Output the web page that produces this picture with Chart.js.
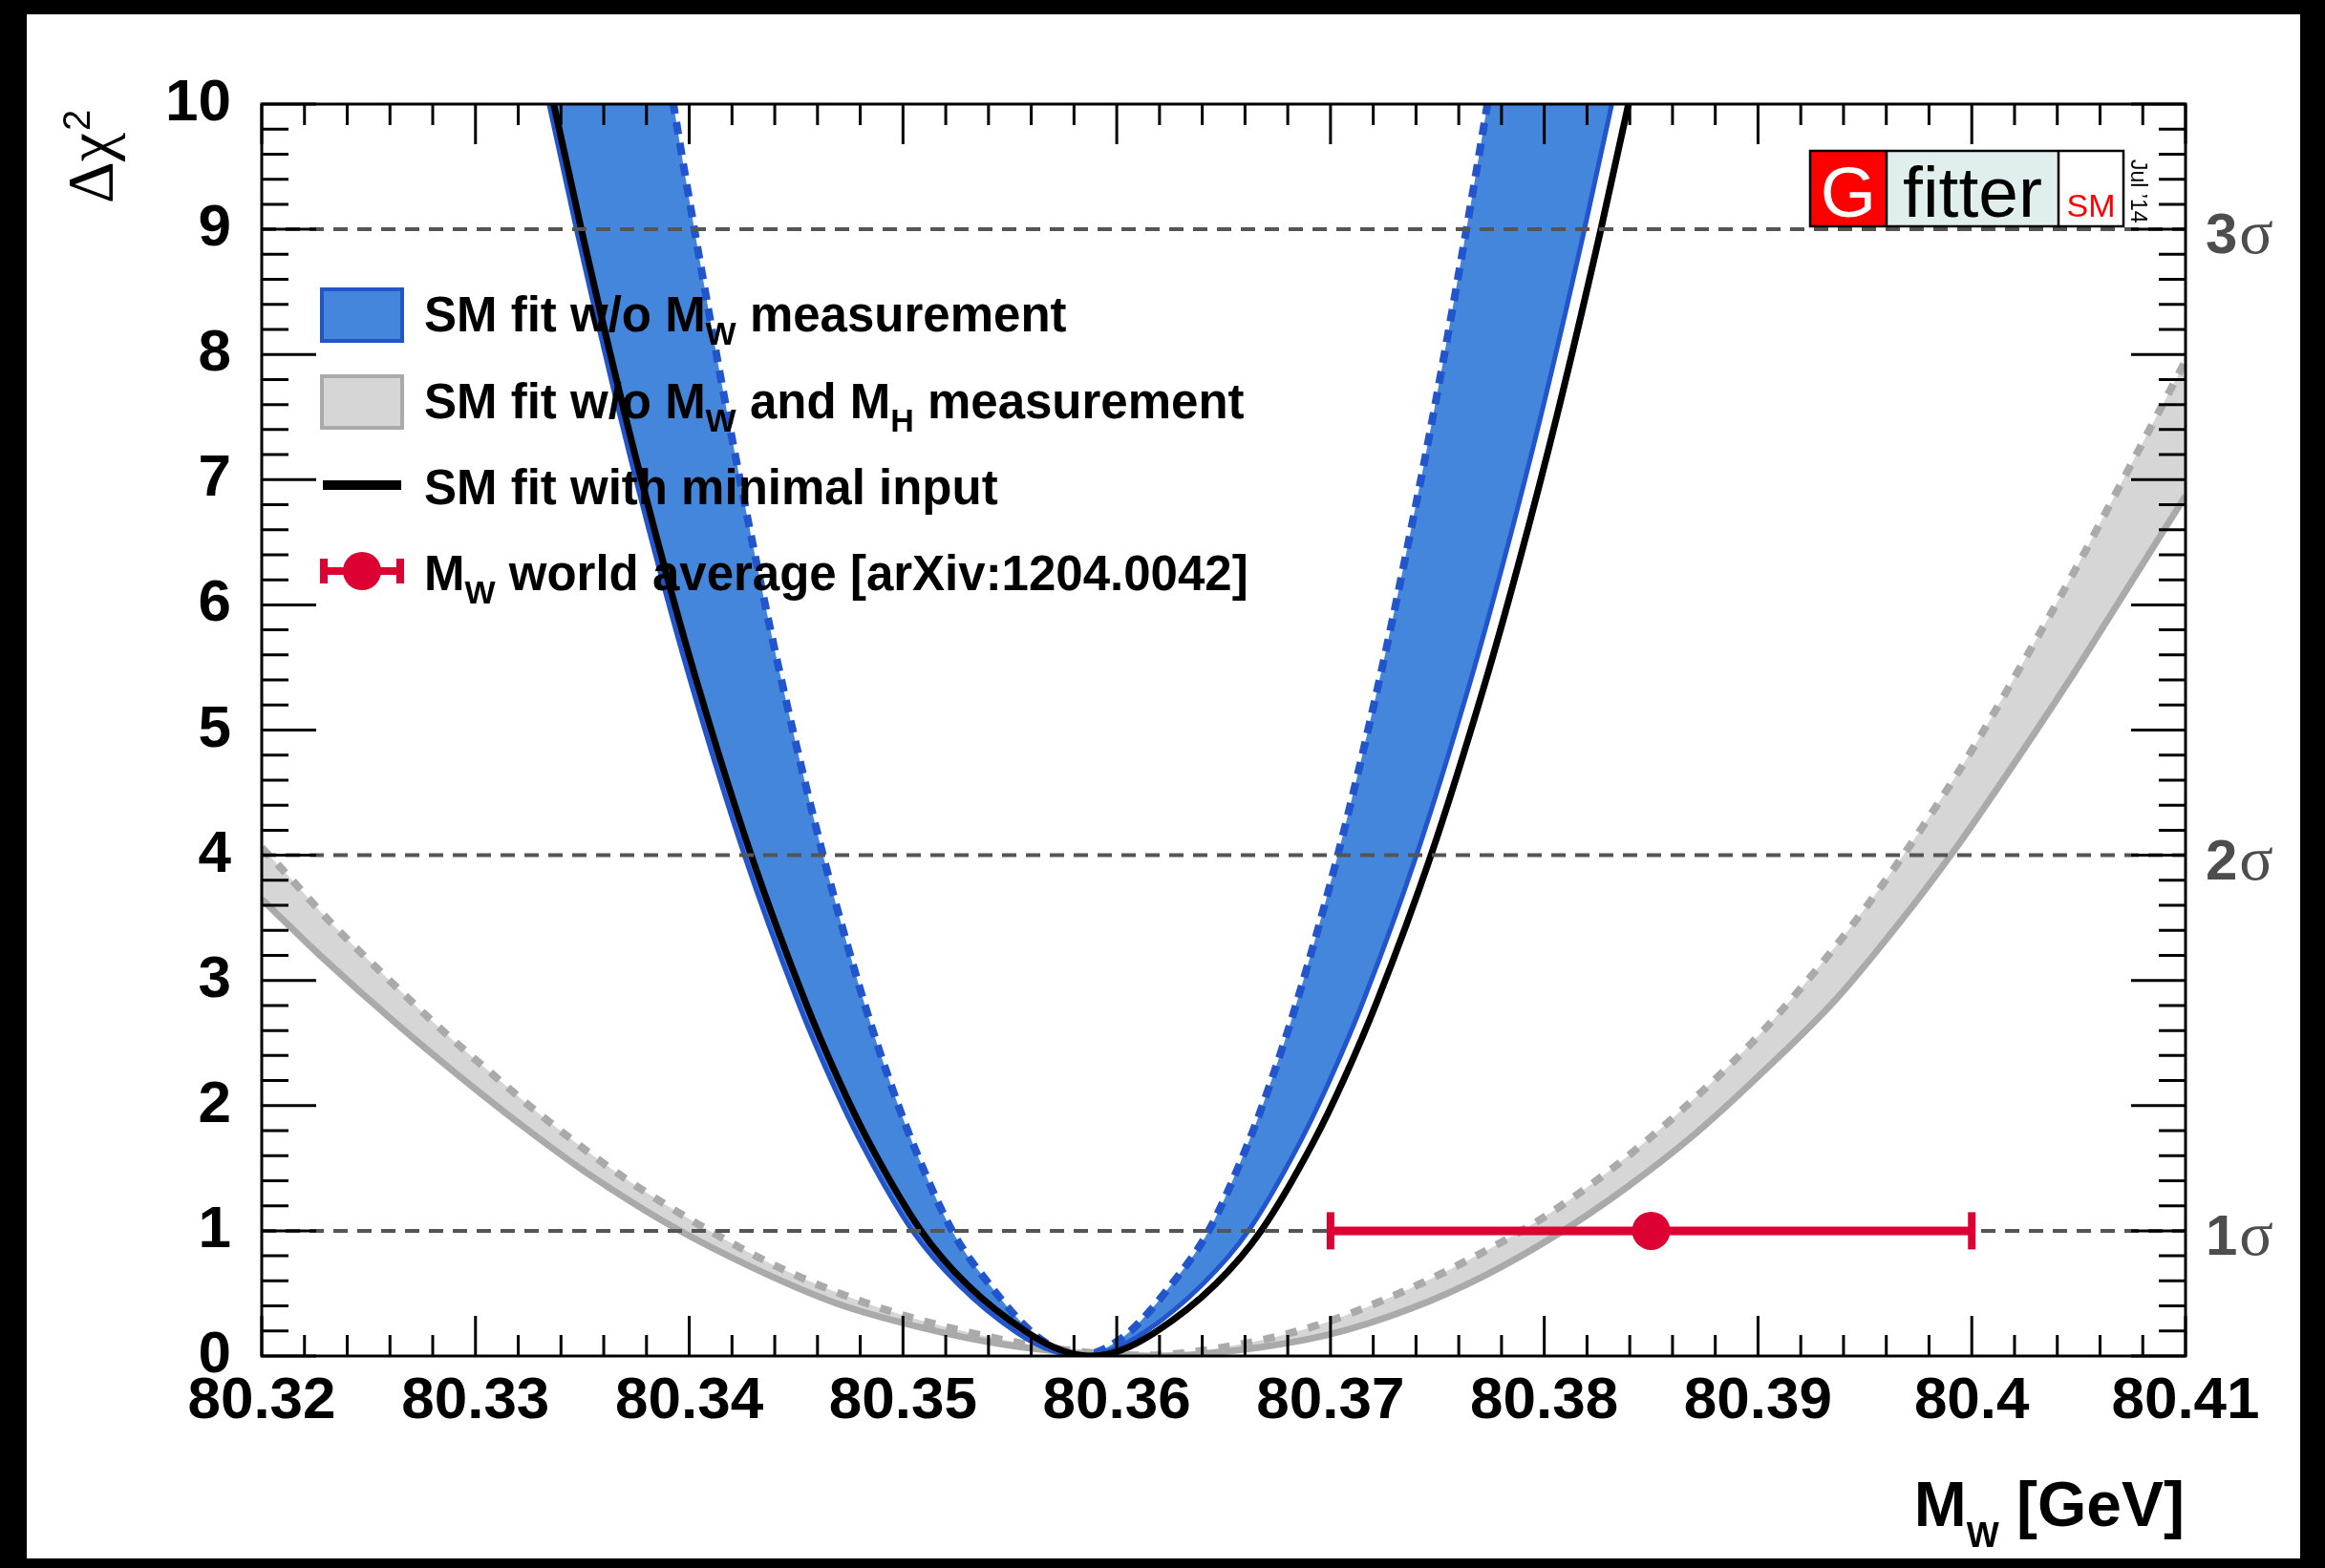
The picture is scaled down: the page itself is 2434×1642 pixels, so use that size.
<!DOCTYPE html>
<html>
<head>
<meta charset="utf-8">
<title>Delta chi2 vs MW</title>
<script src="https://cdn.jsdelivr.net/npm/chart.js@4.4.1/dist/chart.umd.min.js"></script>
<style>
  html, body { margin: 0; padding: 0; background: #000; }
  body { width: 2434px; height: 1642px; position: relative; overflow: hidden; }
  #wrap { position: absolute; left: 28px; top: 15px; width: 2380px; height: 1617px; background: #fff; }
  canvas { display: block; }
</style>
</head>
<body>
<div id="wrap"><canvas id="chi2" width="2380" height="1617"></canvas></div>
<script>
// Delta chi2 scan of MW (Gfitter, Jul '14) drawn with Chart.js

const X_MIN = 80.32;
const X_MAX = 80.41;
const xTickValues = [80.32, 80.33, 80.34, 80.35, 80.36, 80.37, 80.38, 80.39, 80.40, 80.41];
const xTickLabels = ['80.32', '80.33', '80.34', '80.35', '80.36', '80.37', '80.38', '80.39', '80.4', '80.41'];
const yTickValues = [0, 1, 2, 3, 4, 5, 6, 7, 8, 9, 10];
const sigmaLevels = [1, 4, 9];
const sigmaLabels = ['1', '2', '3'];

// SM fit w/o MW measurement: outer (solid) and inner (dashed) edge of the band
const mwBlueOuter   = [80.33223, 80.33344, 80.33472, 80.33673, 80.33856, 80.34009, 80.34258, 80.34508, 80.34659, 80.34802,
                       80.35044, 80.35260, 80.35530, 80.35700, 80.35830, 80.35960, 80.36130, 80.36400, 80.36616, 80.36858,
                       80.37001, 80.37152, 80.37402, 80.37651, 80.37804, 80.37987, 80.38188, 80.38316, 80.38437];
const chi2BlueOuter = [11, 10, 9, 7.53, 6.31, 5.37, 4.0, 2.83, 2.22, 1.71,
                       1.0, 0.57, 0.19, 0.04, 0, 0.04, 0.19, 0.57, 1.0, 1.71,
                       2.22, 2.83, 4.0, 5.37, 6.31, 7.53, 9.0, 10, 11];
const mwBlueInner   = [80.33276, 80.33578, 80.33745, 80.33926, 80.34024, 80.34178, 80.34318, 80.34435, 80.34626, 80.34817,
                       80.34933, 80.35043, 80.35230, 80.35405, 80.35602, 80.35740, 80.35830, 80.35920, 80.36058, 80.36255,
                       80.36430, 80.36617, 80.36727, 80.36843, 80.37034, 80.37225, 80.37342, 80.37482, 80.37636, 80.37734,
                       80.37915, 80.38082, 80.38384];
const chi2BlueInner = [18, 14, 12, 10, 9, 7.53, 6.31, 5.37, 4.0, 2.83,
                       2.22, 1.71, 1.0, 0.57, 0.19, 0.04, 0, 0.04, 0.19, 0.57,
                       1.0, 1.71, 2.22, 2.83, 4.0, 5.37, 6.31, 7.53, 9.0, 10,
                       12, 14, 18];

// SM fit with minimal input
const mwMinimal   = [80.33243, 80.33366, 80.33495, 80.33698, 80.33883, 80.34038, 80.34290, 80.34543, 80.34695, 80.34840,
                     80.35085, 80.35300, 80.35580, 80.35750, 80.35880, 80.36010, 80.36180, 80.36460, 80.36675, 80.36920,
                     80.37065, 80.37217, 80.37470, 80.37722, 80.37877, 80.38062, 80.38265, 80.38394, 80.38517];
const chi2Minimal = [11, 10, 9, 7.53, 6.31, 5.37, 4.0, 2.83, 2.22, 1.71,
                     1.0, 0.57, 0.19, 0.04, 0, 0.04, 0.19, 0.57, 1.0, 1.71,
                     2.22, 2.83, 4.0, 5.37, 6.31, 7.53, 9.0, 10, 11];

// SM fit w/o MW and MH measurement: outer (solid) and inner (dashed) edge
const mwGrayOuter   = [80.3200, 80.3209, 80.3226, 80.3264, 80.3303, 80.3328, 80.3354, 80.3392, 80.3431, 80.3469,
                       80.3508, 80.3546, 80.3585, 80.3617, 80.3656, 80.3699, 80.3737, 80.3773, 80.3806, 80.3838,
                       80.3871, 80.3903, 80.3936, 80.3968, 80.3991, 80.4013, 80.4045, 80.4065, 80.4090, 80.4100];
const chi2GrayOuter = [3.65, 3.50, 3.22, 2.64, 2.09, 1.76, 1.44, 1.035, 0.695, 0.42,
                       0.23, 0.095, 0.02, 0.0, 0.045, 0.17, 0.375, 0.65, 0.97, 1.34,
                       1.78, 2.28, 2.84, 3.50, 4.02, 4.56, 5.38, 5.92, 6.60, 6.87];
const mwGrayInner   = [80.3200, 80.3210, 80.3233, 80.3258, 80.3282, 80.3308, 80.3333, 80.3369, 80.3408, 80.3446,
                       80.3490, 80.3533, 80.3575, 80.3614, 80.3650, 80.3689, 80.3728, 80.3767, 80.3799, 80.3832,
                       80.3864, 80.3897, 80.3929, 80.3958, 80.3995, 80.4024, 80.4049, 80.4072, 80.4089, 80.4100];
const chi2GrayInner = [4.06, 3.88, 3.45, 3.03, 2.64, 2.25, 1.89, 1.43, 1.015, 0.675,
                       0.38, 0.18, 0.05, 0.005, 0.07, 0.22, 0.47, 0.79, 1.10, 1.50,
                       1.96, 2.50, 3.12, 3.76, 4.70, 5.54, 6.30, 7.04, 7.59, 7.95];

// MW world average [arXiv:1204.0042]
const mwWorldAvg = 80.385;
const mwWorldErr = 0.015;
const chi2WorldAvg = 1;

const SANS = '"Liberation Sans", Arial, Helvetica, sans-serif';
const SERIF = '"Liberation Serif", "Times New Roman", serif';
const BLUE_FILL = '#4486dc';
const BLUE_LINE = '#2255cc';
const GRAY_FILL = '#d6d6d6';
const GRAY_LINE = '#aaaaaa';
const RED = '#dd0033';
const DASH_GRAY = '#555555';

function curve(label, xs, ys, color, width, dash, order, fillTarget, fillColor) {
  return {
    label,
    data: xs.map((v, i) => ({ x: v, y: ys[i] })),
    borderColor: color,
    borderWidth: width,
    borderDash: dash,
    pointRadius: 0,
    cubicInterpolationMode: 'monotone',
    fill: fillTarget === undefined ? false : fillTarget,
    backgroundColor: fillColor || 'transparent',
    clip: 0,
    order,
  };
}

const datasets = [
  curve('gray outer', mwGrayOuter, chi2GrayOuter, GRAY_LINE, 7, [], 10, 1, GRAY_FILL),
  curve('gray inner', mwGrayInner, chi2GrayInner, GRAY_LINE, 8, [12, 12], 9),
  curve('blue outer', mwBlueOuter, chi2BlueOuter, BLUE_LINE, 5, [], 8, 3, BLUE_FILL),
  curve('blue inner', mwBlueInner, chi2BlueInner, BLUE_LINE, 8, [13, 9], 7),
  curve('minimal input', mwMinimal, chi2Minimal, '#000000', 7, [], 6),
];
sigmaLevels.forEach(lv => {
  datasets.push({
    label: 'level ' + lv,
    data: [{ x: X_MIN, y: lv }, { x: X_MAX, y: lv }],
    borderColor: DASH_GRAY, borderWidth: 4, borderDash: [15, 10],
    pointRadius: 0, fill: false, clip: 0, order: 3,
  });
});
datasets.push({
  label: 'MW world average error',
  data: [{ x: mwWorldAvg - mwWorldErr, y: chi2WorldAvg }, { x: mwWorldAvg + mwWorldErr, y: chi2WorldAvg }],
  borderColor: RED, borderWidth: 9, fill: false,
  pointStyle: 'line', pointRotation: 90, pointRadius: 19.5,
  pointBorderColor: RED, pointBorderWidth: 8, order: 2,
});
datasets.push({
  label: 'MW world average',
  data: [{ x: mwWorldAvg, y: chi2WorldAvg }],
  showLine: false, pointRadius: 20, pointBackgroundColor: RED,
  pointBorderWidth: 0, order: 1,
});

// text with subscripts: parts = [[text, 'sub'|undefined], ...]
function richWidth(ctx, parts, font, subFont) {
  let w = 0;
  for (const [t, kind] of parts) {
    ctx.font = kind ? subFont : font;
    w += ctx.measureText(t).width;
  }
  return w;
}
function drawRich(ctx, x, y, parts, font, subFont, subDy) {
  let cx = x;
  for (const [t, kind] of parts) {
    ctx.font = kind ? subFont : font;
    ctx.fillText(t, cx, kind === 'sub' ? y + subDy : y);
    cx += ctx.measureText(t).width;
  }
}

function drawFrame(chart) {
  const { ctx, chartArea: a, scales: { x, y } } = chart;
  ctx.save();
  ctx.strokeStyle = '#000';
  ctx.lineWidth = 3;
  ctx.beginPath();
  for (let i = 0; i <= 45; i++) {
    const px = x.getPixelForValue(X_MIN + i * 0.002);
    const len = i % 5 === 0 ? 42 : 22;
    ctx.moveTo(px, a.bottom); ctx.lineTo(px, a.bottom - len);
    ctx.moveTo(px, a.top); ctx.lineTo(px, a.top + len);
  }
  for (let i = 0; i <= 50; i++) {
    const py = y.getPixelForValue(i * 0.2);
    const len = i % 5 === 0 ? 57 : 28;
    ctx.moveTo(a.left, py); ctx.lineTo(a.left + len, py);
    ctx.moveTo(a.right, py); ctx.lineTo(a.right - len, py);
  }
  ctx.stroke();
  ctx.strokeRect(a.left, a.top, a.right - a.left, a.bottom - a.top);
  ctx.restore();
}

function drawTitles(chart) {
  const { ctx, chartArea: a } = chart;
  ctx.save();
  ctx.fillStyle = '#000';
  ctx.textBaseline = 'alphabetic';
  // x title, right aligned
  const xParts = [['M'], ['W', 'sub'], [' [GeV]']];
  const xf = `bold 66px ${SANS}`, xsf = `bold 36px ${SANS}`;
  const w = richWidth(ctx, xParts, xf, xsf);
  drawRich(ctx, a.right - 1 - w, a.bottom + 178, xParts, xf, xsf, 22);
  // y title, rotated
  ctx.translate(a.left - 157, a.top + 104);
  ctx.rotate(-Math.PI / 2);
  ctx.font = `68px ${SERIF}`;
  ctx.fillText('\u0394\u03c7', 0, 0);
  const dw = ctx.measureText('\u0394\u03c7').width;
  ctx.font = `40px ${SANS}`;
  ctx.fillText('2', dw + 2, -23);
  ctx.restore();
}

function drawSigmaLabels(chart) {
  const { ctx, chartArea: a, scales: { y } } = chart;
  ctx.save();
  ctx.fillStyle = '#4d4d4d';
  ctx.textBaseline = 'alphabetic';
  sigmaLevels.forEach((lv, i) => {
    const py = y.getPixelForValue(lv) + 25;
    const px = a.right + 21;
    ctx.font = `bold 60px ${SANS}`;
    ctx.fillText(sigmaLabels[i], px, py);
    const dw = ctx.measureText(sigmaLabels[i]).width;
    ctx.font = `66px ${SERIF}`;
    ctx.fillText('\u03c3', px + dw + 2, py);
  });
  ctx.restore();
}

const legendEntries = [
  { kind: 'blue', parts: [['SM fit w/o M'], ['W', 'sub'], [' measurement']] },
  { kind: 'gray', parts: [['SM fit w/o M'], ['W', 'sub'], [' and M'], ['H', 'sub'], [' measurement']] },
  { kind: 'line', parts: [['SM fit with minimal input']] },
  { kind: 'point', parts: [['M'], ['W', 'sub'], [' world average [arXiv:1204.0042]']] },
];

function drawLegend(chart) {
  const { ctx, chartArea: a } = chart;
  const x0 = a.left + 61, x1 = a.left + 149, tx = a.left + 170;
  const baselines = [238, 329, 419, 509];
  ctx.save();
  ctx.textBaseline = 'alphabetic';
  legendEntries.forEach((e, i) => {
    const base = a.top + baselines[i];
    const cy = base - (i < 2 ? 17 : 20);
    if (e.kind === 'blue' || e.kind === 'gray') {
      ctx.fillStyle = e.kind === 'blue' ? BLUE_FILL : GRAY_FILL;
      ctx.strokeStyle = e.kind === 'blue' ? BLUE_LINE : GRAY_LINE;
      ctx.lineWidth = 4;
      ctx.fillRect(x0, cy - 29, x1 - x0, 58);
      ctx.strokeRect(x0 + 2, cy - 27, x1 - x0 - 4, 54);
    } else if (e.kind === 'line') {
      ctx.strokeStyle = '#000';
      ctx.lineWidth = 10;
      ctx.beginPath(); ctx.moveTo(x0 + 3, cy); ctx.lineTo(x1 - 3, cy); ctx.stroke();
    } else {
      ctx.strokeStyle = RED;
      ctx.fillStyle = RED;
      ctx.lineWidth = 8;
      ctx.beginPath();
      ctx.moveTo(x0, cy); ctx.lineTo(x1, cy);
      ctx.moveTo(x0 + 4, cy - 13); ctx.lineTo(x0 + 4, cy + 13);
      ctx.moveTo(x1 - 4, cy - 13); ctx.lineTo(x1 - 4, cy + 13);
      ctx.stroke();
      ctx.beginPath(); ctx.arc((x0 + x1) / 2, cy, 20, 0, Math.PI * 2); ctx.fill();
    }
    ctx.fillStyle = '#000';
    drawRich(ctx, tx, base, e.parts, `bold 51px ${SANS}`, `bold 34px ${SANS}`, 14);
  });
  ctx.restore();
}

function drawLogo(chart) {
  const { ctx, chartArea: a } = chart;
  const L = a.right - 393, T = a.top + 49, H = 79;
  ctx.save();
  ctx.fillStyle = '#ff0000'; ctx.fillRect(L, T, 80, H);
  ctx.fillStyle = '#e0eeee'; ctx.fillRect(L + 80, T, 180, H);
  ctx.fillStyle = '#ffffff'; ctx.fillRect(L + 260, T, 68, H);
  ctx.strokeStyle = '#000'; ctx.lineWidth = 2.5;
  ctx.strokeRect(L, T, 328, H);
  ctx.beginPath();
  ctx.moveTo(L + 80, T); ctx.lineTo(L + 80, T + H);
  ctx.moveTo(L + 260, T); ctx.lineTo(L + 260, T + H);
  ctx.stroke();
  ctx.textAlign = 'center';
  ctx.textBaseline = 'alphabetic';
  ctx.font = `75px ${SANS}`;
  ctx.fillStyle = '#fff'; ctx.fillText('G', L + 40, T + 69);
  ctx.fillStyle = '#000'; ctx.fillText('fitter', L + 170, T + 69);
  ctx.font = `34px ${SANS}`;
  ctx.fillStyle = '#ff0000'; ctx.fillText('SM', L + 294, T + 69);
  ctx.translate(L + 336, T + 9);
  ctx.rotate(Math.PI / 2);
  ctx.textAlign = 'left';
  ctx.font = `23px ${SANS}`;
  ctx.fillStyle = '#000';
  ctx.fillText('Jul \u201914', 0, 0);
  ctx.restore();
}

const decorations = {
  id: 'decorations',
  afterDatasetsDraw(chart) { drawFrame(chart); },
  afterDraw(chart) {
    drawTitles(chart);
    drawSigmaLabels(chart);
    drawLegend(chart);
    drawLogo(chart);
  },
};

new Chart(document.getElementById('chi2'), {
  type: 'line',
  data: { datasets },
  plugins: [decorations],
  options: {
    responsive: false,
    devicePixelRatio: 1,
    animation: false,
    layout: { padding: { top: 94, right: 120, left: 0, bottom: 0 } },
    plugins: {
      legend: { display: false },
      tooltip: { enabled: false },
      filler: { propagate: false },
    },
    scales: {
      x: {
        type: 'linear',
        min: X_MIN,
        max: X_MAX,
        afterBuildTicks: s => { s.ticks = xTickValues.map(v => ({ value: v })); },
        afterFit: s => { s.height = 212; },
        grid: { display: false, drawTicks: false },
        border: { display: false },
        ticks: {
          autoSkip: false, maxRotation: 0, minRotation: 0, padding: 17, color: '#000',
          font: { family: SANS, size: 62, weight: 'bold', lineHeight: 1 },
          callback: (v, i) => xTickLabels[i],
        },
      },
      y: {
        type: 'linear',
        min: 0,
        max: 10,
        afterBuildTicks: s => { s.ticks = yTickValues.map(v => ({ value: v })); },
        afterFit: s => { s.width = 246; },
        grid: { display: false, drawTicks: false },
        border: { display: false },
        ticks: {
          padding: 32, color: '#000',
          font: { family: SANS, size: 62, weight: 'bold', lineHeight: 1 },
          callback: (v, i) => String(yTickValues[i]),
        },
      },
    },
  },
});
</script>
</body>
</html>
